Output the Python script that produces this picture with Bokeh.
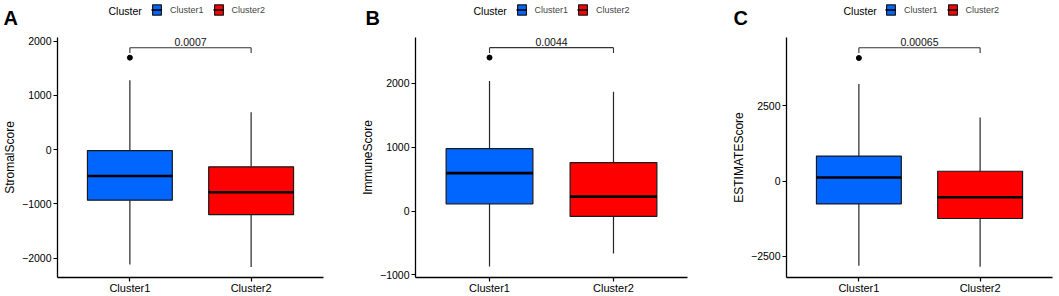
from bokeh.plotting import figure
from bokeh.models import (ColumnDataSource, Range1d, FactorRange, FixedTicker,
                          Label, Legend, LegendItem)
from bokeh.transform import dodge
from bokeh.layouts import row, column
from bokeh.embed import file_html
from bokeh.resources import INLINE

FONT = "Liberation Sans"

categories = ["Cluster1", "Cluster2"]
colors = ["#0066FF", "#FF0000"]

# Panel A - StromalScore
stromal_lower = [-2120, -2163]
stromal_q1 = [-932, -1200]
stromal_median = [-488, -786]
stromal_q3 = [-18, -317]
stromal_upper = [1280, 689]
stromal_outliers = [1695]

# Panel B - ImmuneScore
immune_lower = [-870, -664]
immune_q1 = [112, -85]
immune_median = [593, 225]
immune_q3 = [976, 758]
immune_upper = [2035, 1869]
immune_outliers = [2403]

# Panel C - ESTIMATEScore
estimate_lower = [-2806, -2839]
estimate_q1 = [-757, -1240]
estimate_median = [122, -536]
estimate_q3 = [832, 329]
estimate_upper = [3224, 2115]
estimate_outliers = [4089]

p_values = ["0.0007", "0.0044", "0.00065"]
bracket_top = [1877, 2558, 4431]
bracket_drop = [1780, 2474, 4253]

y_ranges = [(-2358, 2066), (-1041, 2717), (-3200, 4770)]
y_ticks = [[-2000, -1000, 0, 1000, 2000], [-1000, 0, 1000, 2000], [-2500, 0, 2500]]
letters = ["A", "B", "C"]
y_labels = ["StromalScore", "ImmuneScore", "ESTIMATEScore"]

STRIP_H = 33
TOTAL_H = 296
widths = [353, 353, 353]
border_left = [51, 62, 80]
border_right = [30, 19, 7]
letter_x = [3, 365, 733]
title_x = [108, 473, 843]
legend_x = [151, 515.5, 885]


def make_panel(i, lower, q1, med, q3, upper, outliers):
    H = TOTAL_H - STRIP_H
    p = figure(width=widths[i], height=H,
               x_range=FactorRange(*categories, range_padding=0.097,
                                   range_padding_units="absolute"),
               y_range=Range1d(*y_ranges[i]),
               output_backend="svg", toolbar_location=None,
               min_border_left=border_left[i], min_border_right=border_right[i],
               min_border_top=4, min_border_bottom=17)
    p.outline_line_color = None
    p.xgrid.visible = False
    p.ygrid.visible = False

    src = ColumnDataSource(dict(x=categories, lower=lower, q1=q1, med=med,
                                q3=q3, upper=upper, color=colors))
    p.segment(x0="x", y0="q3", x1="x", y1="upper", source=src,
              line_color="#262626", line_width=1.2)
    p.segment(x0="x", y0="q1", x1="x", y1="lower", source=src,
              line_color="#262626", line_width=1.2)
    p.vbar(x="x", width=0.7, bottom="q1", top="q3", source=src,
           fill_color="color", line_color="#1a1a1a", line_width=1.2)
    p.segment(x0=dodge("x", -0.35, range=p.x_range), y0="med",
              x1=dodge("x", 0.35, range=p.x_range), y1="med",
              source=src, line_color="black", line_width=2.6)
    p.scatter(x=["Cluster1"] * len(outliers), y=outliers, size=5,
              color="black")

    t = bracket_top[i]
    d = bracket_drop[i]
    p.segment(x0=["Cluster1", "Cluster1", "Cluster2"], y0=[t, t, t],
              x1=["Cluster2", "Cluster1", "Cluster2"], y1=[t, d, d],
              line_color="#333333", line_width=1.1)
    p.add_layout(Label(x=1.0, y=t, y_offset=6, text=p_values[i],
                       text_align="center", text_baseline="alphabetic",
                       text_font=FONT, text_font_size="10.5px",
                       text_color="#111111"))

    p.xaxis.major_label_text_font = FONT
    p.xaxis.major_label_text_font_size = "11px"
    p.xaxis.major_label_text_color = "black"
    p.xaxis.major_label_standoff = 0
    p.xaxis.major_tick_out = 4
    p.xaxis.major_tick_in = 0
    p.xaxis.axis_line_width = 1.3
    p.xaxis.axis_line_color = "black"
    p.xaxis.major_tick_line_width = 1.2

    p.yaxis.ticker = FixedTicker(ticks=y_ticks[i])
    p.yaxis.minor_tick_line_color = None
    p.yaxis.major_label_text_font = FONT
    p.yaxis.major_label_text_font_size = "10.5px"
    p.yaxis.major_label_text_color = "black"
    p.yaxis.major_label_standoff = 2
    p.yaxis.major_tick_out = 4
    p.yaxis.major_tick_in = 0
    p.yaxis.axis_line_width = 1.3
    p.yaxis.axis_line_color = "black"
    p.yaxis.major_tick_line_width = 1.2
    p.yaxis.axis_label = y_labels[i]
    p.yaxis.axis_label_text_font = FONT
    p.yaxis.axis_label_text_font_size = "12px"
    p.yaxis.axis_label_text_font_style = "normal"
    p.yaxis.axis_label_text_color = "black"
    p.yaxis.axis_label_standoff = 2
    return p


pA = make_panel(0, stromal_lower, stromal_q1, stromal_median, stromal_q3,
                stromal_upper, stromal_outliers)
pB = make_panel(1, immune_lower, immune_q1, immune_median, immune_q3,
                immune_upper, immune_outliers)
pC = make_panel(2, estimate_lower, estimate_q1, estimate_median, estimate_q3,
                estimate_upper, estimate_outliers)

# top strip with panel letters and legends
TOTAL_W = sum(widths)
s = figure(width=TOTAL_W, height=STRIP_H, x_range=Range1d(0, 1),
           y_range=Range1d(0, 1), x_axis_location=None,
           y_axis_location=None, output_backend="svg",
           toolbar_location=None, min_border=0)
s.outline_line_color = None
s.xgrid.visible = False
s.ygrid.visible = False
ksrc = ColumnDataSource(dict(x=[-5, -5], b=[-3, -3], t=[-2, -2],
                             m=[-2.5, -2.5], color=colors))
kbox = s.vbar(x="x", width=0.1, bottom="b", top="t", source=ksrc,
              fill_color="color", line_color="#1a1a1a", line_width=1.2)
kmed = s.segment(x0="x", y0="m", x1="x", y1="m", source=ksrc,
                 line_color="black", line_width=1.6)

for i in range(3):
    s.add_layout(Label(x=letter_x[i], y=STRIP_H - 17.3, x_units="screen",
                       y_units="screen", text=letters[i], text_font=FONT,
                       text_font_size="20px", text_font_style="bold",
                       text_baseline="alphabetic", text_color="black"))
    s.add_layout(Label(x=title_x[i], y=STRIP_H - 10, x_units="screen",
                       y_units="screen", text="Cluster", text_font=FONT,
                       text_font_size="10.5px", text_baseline="middle",
                       text_color="black"))
    items = [LegendItem(label=categories[k], renderers=[kbox, kmed], index=k)
             for k in range(2)]
    leg = Legend(items=items, location=(legend_x[i], STRIP_H - 9.5 - 6.5),
                 orientation="horizontal", border_line_alpha=0,
                 background_fill_alpha=0, padding=0, margin=0, spacing=9,
                 label_standoff=8, glyph_width=11, glyph_height=13,
                 label_height=13, label_width=10,
                 label_text_font=FONT, label_text_font_size="9px",
                 label_text_baseline="middle")
    s.add_layout(leg, "center")

layout = column(s, row(pA, pB, pC, spacing=0), spacing=0)
open("out.html", "w").write(file_html(layout, INLINE))
